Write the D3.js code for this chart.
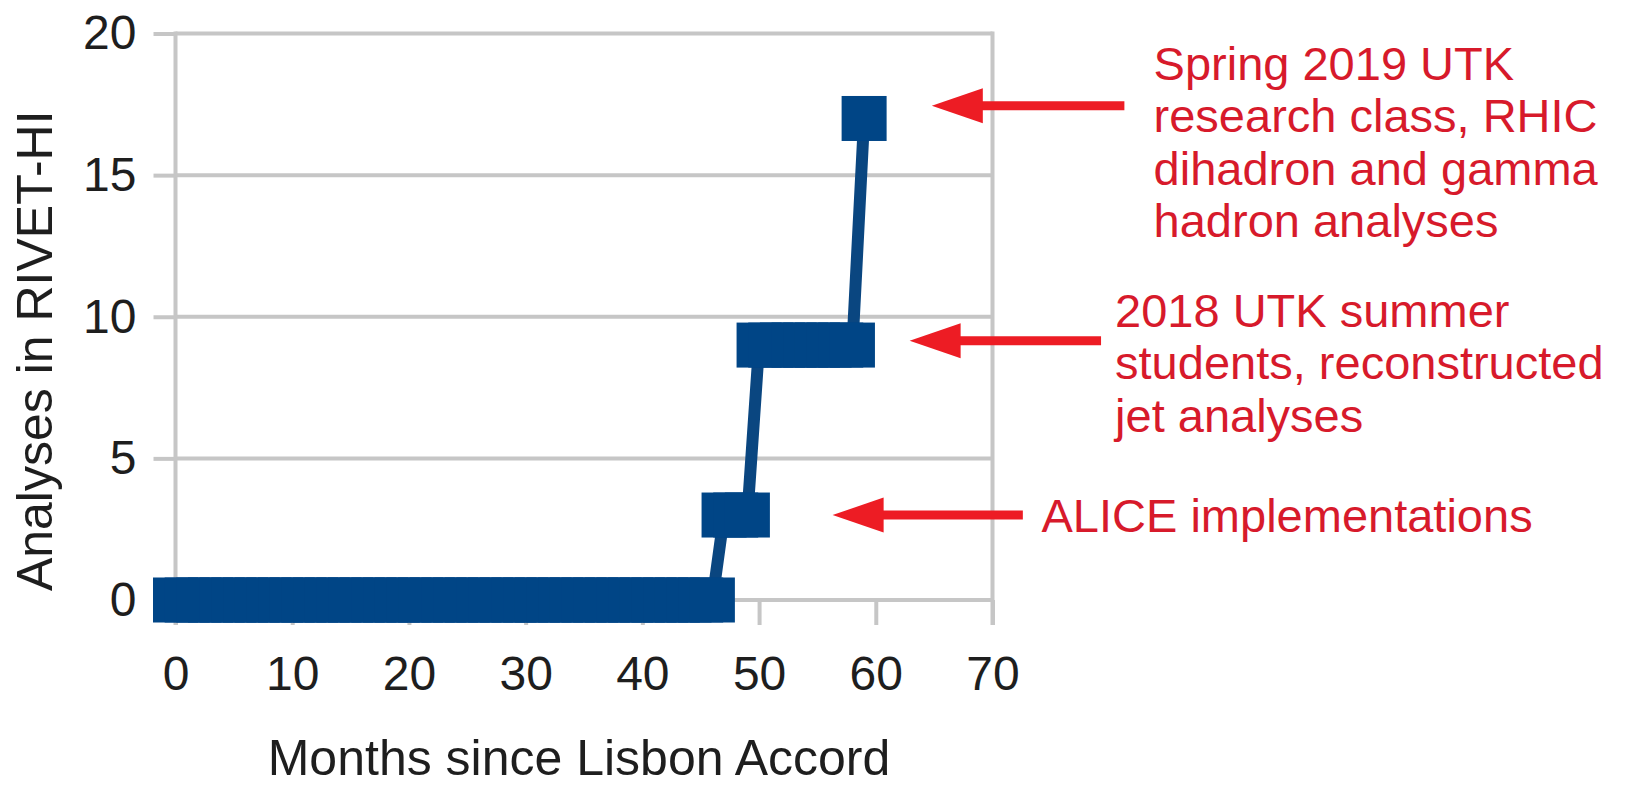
<!DOCTYPE html>
<html>
<head>
<meta charset="utf-8">
<script src="https://cdn.jsdelivr.net/npm/d3@7"></script>
<style>
  body { margin: 0; background: #ffffff; }
  svg { display: block; font-family: "Liberation Sans", Arial, sans-serif; }
</style>
</head>
<body>
<svg width="1625" height="785"></svg>
<script>
// months since the Lisbon Accord, one point per month
const months = [
  0, 1, 2, 3, 4, 5, 6, 7, 8, 9, 10, 11, 12, 13, 14, 15, 16, 17, 18, 19,
  20, 21, 22, 23, 24, 25, 26, 27, 28, 29, 30, 31, 32, 33, 34, 35, 36, 37, 38, 39,
  40, 41, 42, 43, 44, 45, 46, 47, 48, 49, 50, 51, 52, 53, 54, 55, 56, 57, 58, 59,
];
// analyses available in RIVET-HI
const analyses = [
  0, 0, 0, 0, 0, 0, 0, 0, 0, 0, 0, 0, 0, 0, 0, 0, 0, 0, 0, 0,
  0, 0, 0, 0, 0, 0, 0, 0, 0, 0, 0, 0, 0, 0, 0, 0, 0, 0, 0, 0,
  0, 0, 0, 0, 0, 0, 0, 3, 3, 3, 9, 9, 9, 9, 9, 9, 9, 9, 9, 17,
];
const xTicks = [0, 10, 20, 30, 40, 50, 60, 70];
const yTicks = [0, 5, 10, 15, 20];
const xTitle = "Months since Lisbon Accord";
const yTitle = "Analyses in RIVET-HI";

// annotation texts
const noteLines = [
  ["Spring 2019 UTK", "research class, RHIC", "dihadron and gamma", "hadron analyses"],
  ["2018 UTK summer", "students, reconstructed", "jet analyses"],
  ["ALICE implementations"],
];
// where each arrow points (data units) and where its tail / text sit
const noteTipMonth = [64.8, 62.9, 56.3];
const noteTipValue = [17.45, 9.15, 3.0];
const noteTailMonth = [81.3, 79.3, 72.6];
const noteTextMonth = [83.8, 80.5, 74.2];
const noteTextValue = [18.37, 9.65, 2.4];

const data = months.map((m, i) => ({ month: m, count: analyses[i] }));

const svg = d3.select("svg");
svg.append("rect").attr("width", 1625).attr("height", 785).attr("fill", "#ffffff");

const gridColor = "#c6c6c6";
const textColor = "#1e1e1e";
const blue = "#004586";
const red = "#ed1c24";
const redText = "#d71a2b";

// scales
const x = d3.scaleLinear().domain([0, 70]).range([175.5, 992.5]);
const y = d3.scaleLinear().domain([0, 20]).range([600, 33.5]);

// horizontal gridlines
svg.append("g")
  .selectAll("line")
  .data(yTicks)
  .join("line")
  .attr("x1", x(0))
  .attr("x2", x(70))
  .attr("y1", (d) => y(d))
  .attr("y2", (d) => y(d))
  .attr("stroke", gridColor)
  .attr("stroke-width", 4);

// frame lines left and right
svg.append("g")
  .selectAll("line")
  .data([0, 70])
  .join("line")
  .attr("x1", (d) => x(d))
  .attr("x2", (d) => x(d))
  .attr("y1", y(20) - 2)
  .attr("y2", y(0) + 25)
  .attr("stroke", gridColor)
  .attr("stroke-width", 4);

// y axis
const yAxis = svg.append("g")
  .attr("transform", `translate(${x(0)},0)`)
  .call(d3.axisLeft(y).tickValues(yTicks).tickSize(22).tickPadding(17));
yAxis.select(".domain").remove();
yAxis.selectAll(".tick line").attr("stroke", gridColor).attr("stroke-width", 4);
yAxis.selectAll(".tick text")
  .attr("font-size", 48)
  .attr("font-family", "Liberation Sans, Arial, sans-serif")
  .attr("fill", textColor);

// x axis
const xAxis = svg.append("g")
  .attr("transform", `translate(0,${y(0)})`)
  .call(d3.axisBottom(x).tickValues(xTicks).tickSize(25).tickPadding(31));
xAxis.select(".domain").remove();
xAxis.selectAll(".tick line").attr("stroke", gridColor).attr("stroke-width", 4);
xAxis.selectAll(".tick text")
  .attr("font-size", 48)
  .attr("font-family", "Liberation Sans, Arial, sans-serif")
  .attr("fill", textColor);

// axis titles
svg.append("text")
  .attr("x", (x(0) + x(70)) / 2 - 5)
  .attr("y", 775)
  .attr("text-anchor", "middle")
  .attr("font-size", 50)
  .attr("fill", textColor)
  .text(xTitle);

svg.append("text")
  .attr("transform", `translate(52,${(y(0) + y(20)) / 2 + 34}) rotate(-90)`)
  .attr("text-anchor", "middle")
  .attr("font-size", 50)
  .attr("fill", textColor)
  .text(yTitle);

// the series line
const line = d3.line()
  .x((d) => x(d.month))
  .y((d) => y(d.count));

svg.append("path")
  .datum(data)
  .attr("d", line)
  .attr("fill", "none")
  .attr("stroke", "#0a4680")
  .attr("stroke-width", 12)
  .attr("stroke-linejoin", "round");

// square markers
const size = 45;
svg.append("g")
  .selectAll("rect")
  .data(data)
  .join("rect")
  .attr("x", (d) => x(d.month) - size / 2)
  .attr("y", (d) => y(d.count) - size / 2)
  .attr("width", size)
  .attr("height", size)
  .attr("fill", blue);

// annotations: arrows + text
const notes = noteLines.map((lines, i) => ({
  lines: lines,
  tipX: x(noteTipMonth[i]),
  tipY: y(noteTipValue[i]),
  tailX: x(noteTailMonth[i]),
  textX: x(noteTextMonth[i]),
  textY: y(noteTextValue[i]),
}));

const headLen = 51;
const headHalf = 17.5;

const arrows = svg.append("g").selectAll("g").data(notes).join("g");
arrows.append("line")
  .attr("x1", (d) => d.tipX + headLen - 2)
  .attr("x2", (d) => d.tailX)
  .attr("y1", (d) => d.tipY)
  .attr("y2", (d) => d.tipY)
  .attr("stroke", red)
  .attr("stroke-width", 9);
arrows.append("path")
  .attr("d", (d) =>
    `M${d.tipX},${d.tipY} L${d.tipX + headLen},${d.tipY - headHalf} L${d.tipX + headLen},${d.tipY + headHalf} Z`)
  .attr("fill", red);

const noteText = svg.append("g").selectAll("text").data(notes).join("text")
  .attr("x", (d) => d.textX)
  .attr("y", (d) => d.textY)
  .attr("font-size", 47)
  .attr("fill", redText);
noteText.selectAll("tspan")
  .data((d) => d.lines.map((l) => ({ l: l, x: d.textX })))
  .join("tspan")
  .attr("x", (d) => d.x)
  .attr("dy", (d, i) => (i === 0 ? 0 : 52.5))
  .text((d) => d.l);
</script>
</body>
</html>
